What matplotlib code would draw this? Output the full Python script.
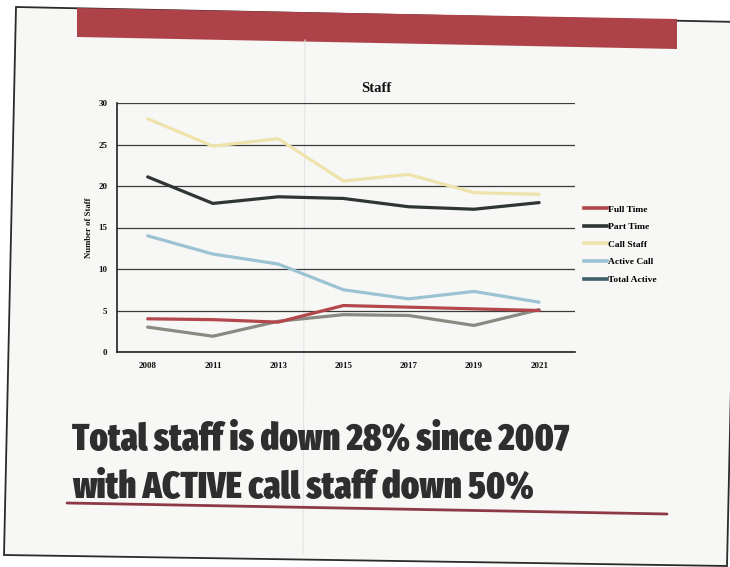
import os
import matplotlib
matplotlib.use('Agg')
import matplotlib.pyplot as plt
from matplotlib import font_manager
from matplotlib.lines import Line2D
from matplotlib.patches import Polygon

# Data
years = ['2008', '2011', '2013', '2015', '2017', '2019', '2021']
full_time = [4.0, 3.9, 3.6, 5.6, 5.4, 5.2, 5.0]
part_time = [21.1, 17.9, 18.7, 18.5, 17.5, 17.2, 18.0]
call_staff = [28.1, 24.8, 25.7, 20.6, 21.4, 19.2, 19.0]
active_call = [14.0, 11.8, 10.6, 7.5, 6.4, 7.3, 6.0]
total_active = [3.0, 1.9, 3.7, 4.5, 4.4, 3.2, 5.1]
series_names = ['Full Time', 'Part Time', 'Call Staff', 'Active Call', 'Total Active']
headline = ['Total staff is down 28% since 2007', 'with ACTIVE call staff down 50%']

W, H = 730, 567


def pick_heavy_narrow():
    ''' look for the heaviest condensed / narrow font that is installed '''
    best, best_score = None, -99
    for f in font_manager.fontManager.ttflist:
        base = os.path.basename(f.fname).lower()
        if 'mono' in base or 'italic' in base or 'oblique' in base:
            continue
        if not any(k in base for k in ('cond', 'narrow')):
            continue
        score = 0
        if 'extracond' in base or 'extcond' in base or 'ultracond' in base:
            score += 4
        elif 'semicond' in base:
            score += 1
        else:
            score += 2
        if 'black' in base or 'heavy' in base:
            score += 3
        elif 'extrabold' in base:
            score += 2.5
        elif 'semibold' in base:
            score += 1
        elif 'bold' in base:
            score += 2
        elif 'light' in base or 'thin' in base:
            score -= 2
        if score > best_score:
            best, best_score = f.fname, score
    if best is None:
        return font_manager.FontProperties(family='DejaVu Sans', weight='bold')
    return font_manager.FontProperties(fname=best)


fig = plt.figure(figsize=(W / 100, H / 100), dpi=100)
fig.patch.set_facecolor('white')

# background layer in pixel coordinates (slide photo, slightly rotated)
bg = fig.add_axes([0, 0, 1, 1])
bg.set_xlim(0, W)
bg.set_ylim(H, 0)
bg.axis('off')
bg.add_patch(Polygon([(16, 7), (739, 22), (727, 566), (4, 555)], closed=True,
                     facecolor='#f7f7f5', edgecolor='#2b2b2b', lw=1.3))
bg.add_patch(Polygon([(77, 8), (677, 19), (677, 49), (77, 37)], closed=True,
                     facecolor='#ad4349', edgecolor='none'))
bg.plot([305, 303], [40, 554], color='#e4e4e4', lw=0.8)
bg.plot([67, 667], [503, 514], color='#8e3a46', lw=2.0, solid_capstyle='round')

# chart
left, right, top, bottom = 117, 575, 103, 352
ax = fig.add_axes([left / W, 1 - bottom / H, (right - left) / W, (bottom - top) / H])
ax.set_facecolor('none')

x = list(range(len(years)))
colors = ['#b3474c', '#2f3434', '#efe3ac', '#9cc3d4', '#8a8a82']
series = [full_time, part_time, call_staff, active_call, total_active]
order = [2, 1, 3, 4, 0]
for i in order:
    ax.plot(x, series[i], color=colors[i], lw=2.3, solid_capstyle='round', zorder=3)

ax.set_xlim(-0.47, 6.55)
ax.set_ylim(0, 30)
ax.set_yticks(range(0, 31, 5))
ax.set_xticks(x)
ax.set_xticklabels(years)
ax.yaxis.grid(True, color='#3c3c3c', lw=0.9)
ax.set_axisbelow(True)
for s in ['top', 'right']:
    ax.spines[s].set_visible(False)
for s in ['left', 'bottom']:
    ax.spines[s].set_color('#222222')
    ax.spines[s].set_linewidth(1.2)
ax.tick_params(length=0, labelsize=6.5, pad=7, labelcolor='#111111')
for lab in ax.get_xticklabels() + ax.get_yticklabels():
    lab.set_family('Liberation Serif')
    lab.set_fontweight('bold')

fig.text(376 / W, 1 - 88 / H, 'Staff', ha='center', va='center',
         family='Liberation Serif', fontweight='bold', fontsize=10.5, color='#111111')
fig.text(89 / W, 1 - 228 / H, 'Number of Staff', ha='center', va='center', rotation=90,
         family='Liberation Serif', fontweight='bold', fontsize=6.3, color='#111111')

legend_colors = ['#b3474c', '#2f3434', '#efe3ac', '#9cc3d4', '#3f6068']
handles = [Line2D([], [], color=c, lw=2.6) for c in legend_colors]
fig.legend(handles, series_names, loc='upper left', bbox_to_anchor=(584 / W, 1 - 205 / H),
           frameon=False, borderpad=0, borderaxespad=0, handlelength=2.4,
           handletextpad=0.15, labelspacing=0.95,
           prop=font_manager.FontProperties(family='Liberation Serif', weight='bold', size=6.8))

# headline text, fitted to the width it takes on the slide
fp = pick_heavy_narrow()
targets = [(72, 449, 506), (72, 497, 462)]
texts = []
for (tx, ty, tw), line in zip(targets, headline):
    t = fig.text(tx / W, 1 - ty / H, line, ha='left', va='baseline',
                 fontproperties=fp, fontsize=36, color='#2e2e2e')
    texts.append(t)
renderer = fig.canvas.get_renderer()
size = 36
for t, (tx, ty, tw) in zip(texts, targets):
    w = t.get_window_extent(renderer).width
    size = min(size, 36 * tw / w)
for t in texts:
    t.set_fontsize(size)

fig.savefig('out.png', dpi=100)
